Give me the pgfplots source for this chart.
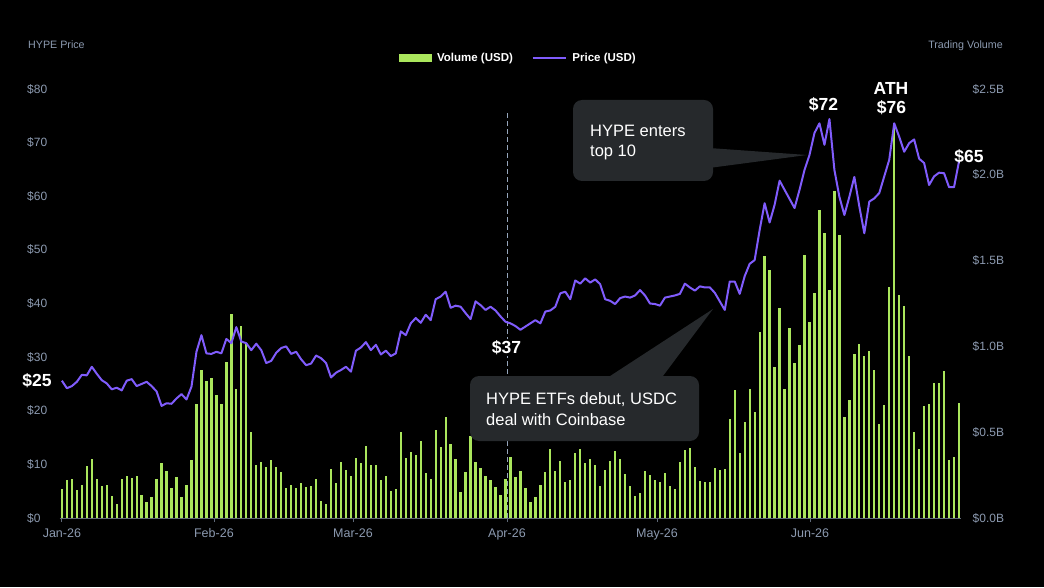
\documentclass[border=0pt]{standalone}
\usepackage{pgfplots}
\usepackage{pgfplotstable}
\pgfplotsset{compat=1.18}
\usepackage{fontspec}
\setmainfont{Liberation Sans}
\definecolor{vgreen}{RGB}{170,230,92}
\definecolor{ppurple}{RGB}{128,92,252}
\definecolor{tickc}{RGB}{140,154,176}
\definecolor{dashc}{RGB}{150,166,188}
\definecolor{boxc}{RGB}{38,41,44}
\definecolor{axisc}{RGB}{95,105,120}

\pgfplotstableread{
d vol price
0 0.171 25.6
1 0.223 24.2
2 0.229 24.6
3 0.161 25.4
4 0.194 26.7
5 0.301 26.6
6 0.344 28.2
7 0.227 26.9
8 0.188 25.7
9 0.192 25.1
10 0.126 24.0
11 0.084 24.3
12 0.227 23.8
13 0.247 25.6
14 0.235 25.9
15 0.243 24.6
16 0.132 25.0
17 0.091 25.4
18 0.120 24.6
19 0.227 23.6
20 0.319 20.9
21 0.274 21.4
22 0.173 21.3
23 0.239 22.3
24 0.124 23.1
25 0.194 22.1
26 0.340 24.5
27 0.664 31.0
28 0.864 34.1
29 0.798 30.7
30 0.816 30.6
31 0.719 31.0
32 0.662 30.7
33 0.907 33.4
34 1.187 32.6
35 0.752 35.6
36 1.121 32.9
37 1.020 32.6
38 0.503 31.3
39 0.307 32.5
40 0.326 31.3
41 0.297 28.9
42 0.340 29.3
43 0.297 30.8
44 0.270 31.7
45 0.173 32.0
46 0.192 30.6
47 0.177 31.0
48 0.204 29.6
49 0.179 28.5
50 0.186 28.8
51 0.229 30.3
52 0.097 29.8
53 0.081 28.9
54 0.288 26.2
55 0.205 27.1
56 0.328 27.6
57 0.278 28.2
58 0.247 27.3
59 0.352 31.2
60 0.321 31.8
61 0.418 32.8
62 0.309 31.3
63 0.309 32.3
64 0.220 30.5
65 0.247 31.2
66 0.157 30.2
67 0.169 30.7
68 0.501 34.8
69 0.352 34.1
70 0.387 36.3
71 0.367 37.3
72 0.447 36.4
73 0.262 37.9
74 0.227 36.9
75 0.513 40.8
76 0.414 41.3
77 0.589 42.2
78 0.433 39.2
79 0.342 39.6
80 0.150 39.4
81 0.270 38.2
82 0.480 37.1
83 0.328 40.4
84 0.291 39.7
85 0.243 38.8
86 0.220 39.4
87 0.181 38.7
88 0.134 37.6
89 0.229 36.6
90 0.355 36.3
91 0.241 35.8
92 0.274 35.1
93 0.175 35.7
94 0.091 36.3
95 0.120 36.9
96 0.194 36.3
97 0.270 38.5
98 0.404 38.7
99 0.276 39.4
100 0.332 41.9
101 0.208 42.2
102 0.223 40.8
103 0.379 44.3
104 0.404 43.7
105 0.321 44.7
106 0.344 43.9
107 0.309 44.5
108 0.188 43.6
109 0.281 40.8
110 0.334 40.5
111 0.391 39.9
112 0.342 41.0
113 0.254 41.3
114 0.185 41.1
115 0.126 41.5
116 0.146 42.5
117 0.276 41.5
118 0.251 40.0
119 0.223 39.9
120 0.208 39.6
121 0.262 41.1
122 0.188 41.3
123 0.169 41.5
124 0.328 41.8
125 0.394 43.7
126 0.406 43.0
127 0.297 42.4
128 0.216 43.2
129 0.208 43.0
130 0.212 43.0
131 0.289 42.0
132 0.282 40.4
133 0.286 38.8
134 0.577 44.1
135 0.748 44.1
136 0.379 41.8
137 0.558 45.1
138 0.752 47.4
139 0.616 48.1
140 1.086 53.7
141 1.529 58.7
142 1.443 55.1
143 0.878 58.4
144 1.226 62.9
145 0.750 61.2
146 1.110 59.5
147 0.901 57.8
148 1.006 61.2
149 1.533 64.9
150 1.140 67.7
151 1.311 71.8
152 1.793 73.6
153 1.663 69.6
154 1.329 74.4
155 1.905 64.9
156 1.647 59.9
157 0.591 56.5
158 0.688 59.9
159 0.953 63.6
160 1.012 58.1
161 0.944 53.1
162 0.973 59.0
163 0.862 59.6
164 0.548 60.6
165 0.657 63.7
166 1.347 66.8
167 2.300 73.6
168 1.302 71.1
169 1.234 68.3
170 0.946 69.9
171 0.500 70.6
172 0.405 67.0
173 0.653 66.2
174 0.667 62.1
175 0.789 63.7
176 0.789 64.4
177 0.857 64.3
178 0.339 61.7
179 0.355 61.7
180 0.669 66.5
}\hypedata

\begin{document}
\begin{tikzpicture}
\fill[black] (0pt,0pt) rectangle (1044pt,587pt);

% Volume axis (right)
\begin{axis}[
  at={(59.7pt,69pt)}, anchor=south west,
  scale only axis, width=900.8pt, height=429pt,
  xmin=-0.44, xmax=180.3, ymin=0, ymax=2.5,
  axis x line*=bottom, axis y line*=right,
  x axis line style={draw=axisc, line width=0.8pt},
  y axis line style={draw=none},
  xtick={0,30.5,58.4,89.3,119.4,150.1},
  xticklabels={Jan-26,Feb-26,Mar-26,Apr-26,May-26,Jun-26},
  xtick align=outside, major tick length=4pt,
  xtick style={draw=axisc, line width=0.8pt},
  ytick={0,0.5,1,1.5,2,2.5},
  yticklabels={\$0.0B,\$0.5B,\$1.0B,\$1.5B,\$2.0B,\$2.5B},
  ytick align=inside, ytick style={draw=none},
  xticklabel style={font=\fontsize{12.5}{14}\selectfont, text=tickc, anchor=base, inner sep=0pt, yshift=-15pt},
  yticklabel style={font=\fontsize{12}{14}\selectfont, text=tickc, anchor=west, inner sep=0pt, xshift=12pt},
]
\addplot[ycomb, draw=vgreen, line width=2.3pt, mark=none] table[x=d,y=vol]{\hypedata};
\end{axis}

% Price axis (left)
\begin{axis}[
  at={(59.7pt,69pt)}, anchor=south west,
  scale only axis, width=900.8pt, height=429pt,
  xmin=-0.44, xmax=180.3, ymin=0, ymax=80,
  hide x axis, axis y line*=left,
  y axis line style={draw=none},
  ytick={0,10,...,80},
  yticklabels={\$0,\$10,\$20,\$30,\$40,\$50,\$60,\$70,\$80},
  ytick align=inside, ytick style={draw=none},
  yticklabel style={font=\fontsize{12}{14}\selectfont, text=tickc, anchor=west, inner sep=0pt, xshift=-32.7pt},
  legend columns=2,
  legend style={draw=none, fill=none, text=white, font=\bfseries\fontsize{11.5}{13}\selectfont,
    at={(axis description cs:0.509,1.072)}, anchor=center, inner sep=0pt,
    /tikz/every odd column/.append style={column sep=4pt},
    /tikz/every even column/.append style={column sep=17pt}},
]
\draw[dashc, line width=0.9pt, dash pattern=on 5pt off 3pt] (axis cs:89.3,0) -- (axis cs:89.3,75.6);
\addlegendimage{legend image code/.code={\fill[vgreen] (0pt,-3.5pt) rectangle (32pt,3.5pt);}}
\addlegendentry{Volume (USD)}
\addplot[draw=ppurple, line width=2pt, line join=round, mark=none,
  legend image code/.code={\draw[ppurple,line width=1.5pt] (0pt,0pt) -- (33pt,0pt);}]
  table[x=d,y=price]{\hypedata};
\addlegendentry{Price (USD)}
\end{axis}

% axis titles
\node[anchor=base west, font=\fontsize{10.7}{12}\selectfont, text=tickc, inner sep=0pt] at (28pt,538.7pt) {HYPE Price};
\node[anchor=base east, font=\fontsize{10.7}{12}\selectfont, text=tickc, inner sep=0pt] at (1003pt,538.7pt) {Trading Volume};

% value labels
\tikzset{vlab/.style={font=\bfseries\fontsize{17.5}{20}\selectfont, text=white, inner sep=1.5pt}}
\node[vlab] at (37pt,206pt) {\$25};
\node[vlab, fill=black] at (506.5pt,239.5pt) {\$37};
\node[vlab] at (823.5pt,482.5pt) {\$72};
\node[vlab] at (891pt,498.7pt) {ATH};
\node[vlab] at (891.5pt,479.2pt) {\$76};
\node[vlab] at (969pt,430.3pt) {\$65};

% callout 1
\fill[boxc, rounded corners=9pt] (573pt,406pt) rectangle (713pt,487pt);
\fill[boxc] (709pt,439pt) -- (807pt,432pt) -- (709pt,419pt) -- cycle;
\node[anchor=base west, inner sep=0pt, text=white, font=\fontsize{16.5}{19}\selectfont] at (590pt,450.3pt) {HYPE enters};
\node[anchor=base west, inner sep=0pt, text=white, font=\fontsize{16.5}{19}\selectfont] at (590pt,430.3pt) {top 10};

% callout 2
\fill[boxc, rounded corners=9pt] (470pt,146pt) rectangle (699pt,211pt);
\fill[boxc] (604pt,207pt) -- (713pt,278pt) -- (660pt,207pt) -- cycle;
\node[anchor=base west, inner sep=0pt, text=white, font=\fontsize{16.5}{19}\selectfont] at (486pt,183pt) {HYPE ETFs debut, USDC};
\node[anchor=base west, inner sep=0pt, text=white, font=\fontsize{16.5}{19}\selectfont] at (486pt,162pt) {deal with Coinbase};
\end{tikzpicture}
\end{document}
